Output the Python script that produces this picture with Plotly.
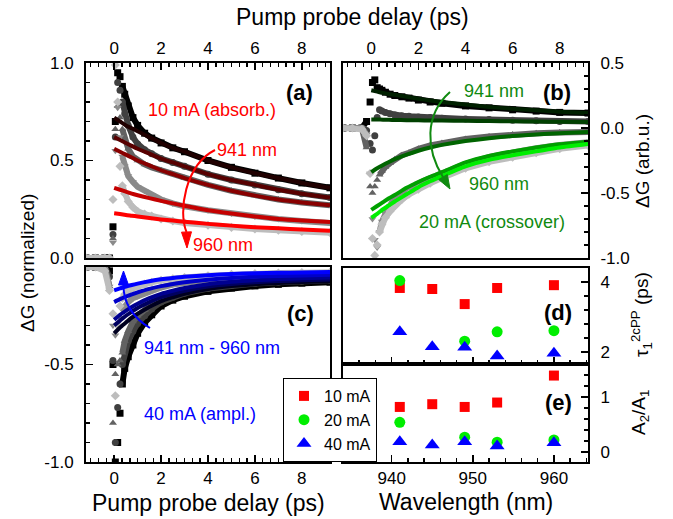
import plotly.graph_objects as go

W, H = 673, 519

# ---------------- data ----------------
wavelengths_nm = [941, 945, 949, 953, 960]
currents = ["10 mA", "20 mA", "40 mA"]

t_data = [-1.2, -0.8, -0.4, -0.2, -0.05, 0.05, 0.15, 0.25, 0.35, 0.45, 0.6, 0.8,
          1.0, 1.3, 1.6, 2.0, 2.5, 3.0, 4.0, 5.0, 6.0, 7.0, 8.0, 9.2]
t_fit = [0, 0.25, 0.5, 0.75, 1.0, 1.5, 2.0, 2.5, 3.0, 4.0, 5.0, 6.0, 7.0, 8.0, 9.2]

# (a) 10 mA absorber, normalized
a_941 = [0, 0, 0, 0, 0.16, 0.70, 0.95, 0.93, 0.88, 0.84, 0.78, 0.72, 0.68, 0.64, 0.615, 0.59, 0.565, 0.545, 0.50, 0.465, 0.435, 0.41, 0.385, 0.36]
a_945 = [0, 0, 0, 0, 0.12, 0.62, 0.90, 0.86, 0.80, 0.74, 0.68, 0.62, 0.585, 0.555, 0.535, 0.51, 0.49, 0.47, 0.43, 0.40, 0.375, 0.35, 0.33, 0.31]
a_949 = [0, 0, 0, 0, 0.10, 0.66, 0.78, 0.72, 0.66, 0.61, 0.56, 0.52, 0.50, 0.48, 0.465, 0.45, 0.43, 0.41, 0.375, 0.345, 0.32, 0.30, 0.285, 0.27]
a_953 = [0, 0, 0, 0, 0.08, 0.55, 0.77, 0.62, 0.52, 0.47, 0.42, 0.39, 0.365, 0.345, 0.325, 0.30, 0.28, 0.265, 0.245, 0.228, 0.213, 0.20, 0.19, 0.18]
a_960 = [0, 0, 0, 0, 0.30, 0.99, 0.80, 0.47, 0.37, 0.33, 0.29, 0.26, 0.24, 0.225, 0.215, 0.20, 0.19, 0.18, 0.168, 0.157, 0.149, 0.142, 0.136, 0.13]
fa_941 = [0.72, 0.70, 0.68, 0.665, 0.65, 0.62, 0.59, 0.565, 0.545, 0.50, 0.465, 0.435, 0.41, 0.385, 0.36]
fa_945 = [0.62, 0.605, 0.59, 0.575, 0.56, 0.535, 0.51, 0.49, 0.47, 0.43, 0.40, 0.375, 0.35, 0.33, 0.31]
fa_949 = [0.56, 0.545, 0.53, 0.515, 0.50, 0.475, 0.45, 0.43, 0.41, 0.375, 0.345, 0.32, 0.30, 0.285, 0.27]
fa_953 = [0.36, 0.35, 0.34, 0.33, 0.322, 0.307, 0.293, 0.28, 0.268, 0.245, 0.228, 0.213, 0.20, 0.192, 0.185]
fa_960 = [0.23, 0.226, 0.221, 0.217, 0.213, 0.205, 0.198, 0.192, 0.186, 0.175, 0.166, 0.158, 0.152, 0.146, 0.14]

# (b) 20 mA crossover, arb. units
b_941 = [0, 0, 0, 0.05, 0.20, 0.35, 0.37, 0.31, 0.30, 0.29, 0.275, 0.26, 0.25, 0.24, 0.23, 0.215, 0.20, 0.19, 0.17, 0.155, 0.14, 0.13, 0.12, 0.115]
b_945 = [0, 0, 0, -0.02, -0.12, -0.17, -0.06, 0.08, 0.14, 0.13, 0.12, 0.11, 0.10, 0.095, 0.09, 0.085, 0.08, 0.075, 0.07, 0.065, 0.06, 0.055, 0.05, 0.05]
b_949 = [0, 0, 0, -0.15, -0.45, -0.50, -0.45, -0.40, -0.36, -0.33, -0.30, -0.27, -0.24, -0.21, -0.19, -0.16, -0.135, -0.115, -0.085, -0.065, -0.05, -0.04, -0.035, -0.03]
b_953 = [0, 0, 0, -0.05, -0.35, -0.70, -0.86, -0.92, -0.80, -0.72, -0.66, -0.60, -0.53, -0.50, -0.465, -0.425, -0.385, -0.35, -0.275, -0.222, -0.186, -0.156, -0.13, -0.11]
b_960 = [0, 0, -0.01, -0.06, -0.35, -0.85, -0.98, -0.90, -0.80, -0.74, -0.69, -0.64, -0.60, -0.55, -0.51, -0.47, -0.425, -0.385, -0.31, -0.26, -0.225, -0.19, -0.16, -0.135]
fb_941 = [0.29, 0.28, 0.27, 0.262, 0.255, 0.24, 0.225, 0.212, 0.20, 0.18, 0.162, 0.148, 0.136, 0.125, 0.115]
fb_945 = [0.065, 0.065, 0.064, 0.063, 0.062, 0.060, 0.059, 0.058, 0.057, 0.055, 0.053, 0.051, 0.050, 0.048, 0.046]
fb_949 = [-0.34, -0.31, -0.285, -0.262, -0.24, -0.205, -0.175, -0.15, -0.13, -0.10, -0.078, -0.062, -0.05, -0.04, -0.03]
fb_953 = [-0.63, -0.60, -0.57, -0.54, -0.515, -0.46, -0.415, -0.375, -0.34, -0.265, -0.215, -0.18, -0.15, -0.125, -0.105]
fb_960 = [-0.69, -0.66, -0.625, -0.595, -0.565, -0.51, -0.455, -0.41, -0.37, -0.295, -0.245, -0.21, -0.18, -0.15, -0.123]

# (c) 40 mA amplifier, normalized
c_941 = [0, 0, 0, -0.02, -0.50, -1.0, -0.90, -0.75, -0.60, -0.52, -0.46, -0.40, -0.34, -0.285, -0.245, -0.20, -0.17, -0.15, -0.125, -0.108, -0.097, -0.089, -0.083, -0.078]
c_945 = [0, 0, 0, -0.05, -0.48, -0.90, -0.72, -0.60, -0.50, -0.44, -0.38, -0.33, -0.29, -0.25, -0.215, -0.18, -0.155, -0.135, -0.11, -0.095, -0.085, -0.078, -0.073, -0.068]
c_949 = [0, 0, 0, -0.10, -0.80, -0.55, -0.50, -0.48, -0.44, -0.38, -0.33, -0.28, -0.25, -0.22, -0.19, -0.16, -0.138, -0.12, -0.098, -0.083, -0.075, -0.068, -0.063, -0.058]
c_953 = [0, 0, 0, -0.10, -0.30, -0.35, -0.30, -0.26, -0.22, -0.20, -0.18, -0.16, -0.15, -0.135, -0.12, -0.105, -0.09, -0.08, -0.066, -0.057, -0.051, -0.047, -0.044, -0.041]
c_960 = [0, 0, -0.02, -0.12, -0.24, -0.66, -0.30, -0.20, -0.16, -0.14, -0.12, -0.11, -0.10, -0.088, -0.078, -0.068, -0.06, -0.054, -0.045, -0.038, -0.034, -0.031, -0.029, -0.027]
fc_941 = [-0.34, -0.31, -0.285, -0.26, -0.24, -0.205, -0.175, -0.155, -0.137, -0.113, -0.098, -0.088, -0.082, -0.077, -0.073]
fc_945 = [-0.30, -0.275, -0.25, -0.23, -0.21, -0.18, -0.155, -0.137, -0.122, -0.10, -0.087, -0.078, -0.072, -0.068, -0.064]
fc_949 = [-0.27, -0.245, -0.225, -0.205, -0.188, -0.16, -0.138, -0.122, -0.108, -0.088, -0.076, -0.068, -0.062, -0.058, -0.054]
fc_953 = [-0.18, -0.165, -0.152, -0.14, -0.13, -0.112, -0.098, -0.087, -0.078, -0.065, -0.056, -0.05, -0.046, -0.043, -0.04]
fc_960 = [-0.12, -0.11, -0.10, -0.092, -0.085, -0.073, -0.063, -0.056, -0.05, -0.042, -0.036, -0.032, -0.03, -0.028, -0.026]

# (d) tau_1^2cPP (ps) and (e) A2/A1 vs wavelength
tau_10 = [3.83, 3.80, 3.37, 3.83, 3.91]
tau_20 = [4.04, None, 2.31, 2.58, 2.61]
tau_40 = [2.58, 2.15, 2.14, 1.89, 1.97]
ratio_10 = [0.82, 0.87, 0.82, 0.90, 1.39]
ratio_20 = [0.54, None, 0.27, 0.18, 0.22]
ratio_40 = [0.19, 0.13, 0.19, 0.11, 0.17]

# ---------------- styles ----------------
FONT = "Liberation Sans, Arial, sans-serif"
data_colors = ["#000000", "#404040", "#626262", "#8a8a8a", "#bdbdbd"]
data_symbols = ["square", "circle", "triangle-up", "triangle-down", "diamond"]
red_fits = ["#200000", "#580000", "#880000", "#c40000", "#ff0000"]
green_fits = ["#002000", "#004000", "#006400", "#00a000", "#00ee00"]
blue_fits = ["#000020", "#000060", "#000090", "#0000c8", "#0000ff"]
cur_colors = ["#ff0000", "#00ee00", "#0000ff"]
cur_symbols = ["square", "circle", "triangle-up"]
cur_sizes = [10, 11, 13]

fig = go.Figure()


def add_panel(xa, ya, data_series, fit_series, fit_colors):
    for i, ys in enumerate(data_series):
        # dense measured trace: continuous band before the pulse and after ~0.3 ps
        pre = [(t, v) for t, v in zip(t_data, ys) if t <= -0.2]
        post = [(t, v) for t, v in zip(t_data, ys) if t >= 0.35]
        for seg in (pre, post):
            fig.add_trace(go.Scatter(
                x=[p[0] for p in seg], y=[p[1] for p in seg], xaxis=xa, yaxis=ya,
                mode="lines", line=dict(color=data_colors[i], width=6),
                showlegend=False, hoverinfo="skip"))
        fig.add_trace(go.Scatter(
            x=t_data, y=ys, xaxis=xa, yaxis=ya, mode="markers",
            marker=dict(symbol=data_symbols[i], color=data_colors[i], size=7),
            showlegend=False, hoverinfo="skip"))
    for i, ys in enumerate(fit_series):
        fig.add_trace(go.Scatter(
            x=t_fit, y=ys, xaxis=xa, yaxis=ya, mode="lines",
            line=dict(color=fit_colors[i], width=4, shape="spline", smoothing=0.6),
            showlegend=False, hoverinfo="skip"))


add_panel("x", "y", [a_941, a_945, a_949, a_953, a_960],
          [fa_941, fa_945, fa_949, fa_953, fa_960], red_fits)
add_panel("x2", "y2", [b_941, b_945, b_949, b_953, b_960],
          [fb_941, fb_945, fb_949, fb_953, fb_960], green_fits)
add_panel("x3", "y3", [c_941, c_945, c_949, c_953, c_960],
          [fc_941, fc_945, fc_949, fc_953, fc_960], blue_fits)

for i, ys in enumerate([tau_10, tau_20, tau_40]):
    fig.add_trace(go.Scatter(x=wavelengths_nm, y=ys, xaxis="x4", yaxis="y4", mode="markers",
                             marker=dict(symbol=cur_symbols[i], color=cur_colors[i], size=cur_sizes[i]),
                             showlegend=False, hoverinfo="skip"))
for i, ys in enumerate([ratio_10, ratio_20, ratio_40]):
    fig.add_trace(go.Scatter(x=wavelengths_nm, y=ys, xaxis="x5", yaxis="y5", mode="markers",
                             marker=dict(symbol=cur_symbols[i], color=cur_colors[i], size=cur_sizes[i]),
                             name=currents[i], showlegend=True, hoverinfo="skip"))

# ---------------- axes ----------------
def px_x(x):
    return x / W


def px_y(y):
    return 1 - y / H


dom_left = [px_x(86), px_x(330)]
dom_right = [px_x(343), px_x(588)]


def axis(std=0, **kw):
    base = dict(showline=True, linecolor="black", linewidth=2, mirror=True,
                ticks="inside", tickcolor="black", tickwidth=1.5, ticklen=7,
                showgrid=False, zeroline=False, automargin=False,
                ticklabelstandoff=std,
                tickfont=dict(family=FONT, size=17, color="black"))
    base.update(kw)
    return base


def minor(vals):
    return dict(tickmode="array", tickvals=vals, ticks="inside", ticklen=4,
                tickcolor="black", tickwidth=1.5)


t_minor = [k / 3 for k in range(-3, 28) if k % 6 != 0]
t_major = [0, 2, 4, 6, 8]
wl_minor = [x for x in range(934, 965, 2) if x % 10 != 0]
XS, YS = 0, 7

layout_axes = dict(
    xaxis=axis(XS, domain=dom_left, anchor="y", side="top", range=[-1.2, 9.2],
               tickmode="array", tickvals=t_major, ticktext=[str(v) for v in t_major],
               minor=minor(t_minor)),
    yaxis=axis(YS, domain=[px_y(258), px_y(63)], anchor="x", range=[0, 1],
               tickmode="array", tickvals=[0, 0.5, 1.0], ticktext=["0.0", "0.5", "1.0"],
               minor=minor([round(0.1 * k, 2) for k in range(1, 10) if k != 5])),
    xaxis2=axis(XS, domain=dom_right, anchor="y2", side="top", range=[-1.2, 9.2],
                tickmode="array", tickvals=t_major, ticktext=[str(v) for v in t_major],
                minor=minor(t_minor)),
    yaxis2=axis(YS, domain=[px_y(258), px_y(63)], anchor="x2", side="right", range=[-1.0, 0.5],
                tickmode="array", tickvals=[-1.0, -0.5, 0.0, 0.5],
                ticktext=["-1.0", "-0.5", "0.0", "0.5"],
                minor=minor([round(-1 + 0.1 * k, 2) for k in range(1, 15) if k % 5 != 0])),
    xaxis3=axis(XS, domain=dom_left, anchor="y3", side="bottom", range=[-1.2, 9.2],
                tickmode="array", tickvals=t_major, ticktext=[str(v) for v in t_major],
                minor=minor(t_minor)),
    yaxis3=axis(YS, domain=[px_y(462), px_y(267)], anchor="x3", range=[-1, 0],
                tickmode="array", tickvals=[-1.0, -0.5], ticktext=["-1.0", "-0.5"],
                minor=minor([round(-1 + 0.1 * k, 2) for k in range(1, 11) if k != 5])),
    xaxis4=axis(XS, domain=dom_right, anchor="y4", side="bottom", range=[934, 964.2],
                tickmode="array", tickvals=[940, 950, 960], showticklabels=False,
                minor=minor(wl_minor)),
    yaxis4=axis(YS, domain=[px_y(364), px_y(268)], anchor="x4", side="right", range=[1.66, 4.4],
                tickmode="array", tickvals=[2, 4], ticktext=["2", "4"],
                minor=minor([2.4, 2.8, 3.2, 3.6])),
    xaxis5=axis(XS, domain=dom_right, anchor="y5", side="bottom", range=[934, 964.2],
                tickmode="array", tickvals=[940, 950, 960], ticktext=["940", "950", "960"],
                minor=minor(wl_minor)),
    yaxis5=axis(YS, domain=[px_y(462), px_y(364)], anchor="x5", side="right", range=[-0.18, 1.6],
                tickmode="array", tickvals=[0, 1], ticktext=["0", "1"],
                minor=minor([0.2, 0.4, 0.6, 0.8, 1.2, 1.4])),
)

# ---------------- annotations ----------------
annotations = []


def text(x, y, s, size=17, color="black", angle=0):
    annotations.append(dict(x=px_x(x), y=px_y(y), xref="paper", yref="paper", text=s,
                            showarrow=False, xanchor="center", yanchor="middle",
                            textangle=angle, font=dict(family=FONT, size=size, color=color)))


text(352, 17, "Pump probe delay (ps)", 23)
text(208, 503, "Pump probe delay (ps)", 23)
text(466, 502, "Wavelength (nm)", 23)
text(27, 263, "ΔG (normalized)", 19, angle=-90)
text(643, 161, "ΔG (arb.u.)", 19, angle=-90)
text(641, 315, "τ<sub>1</sub><sup>2cPP</sup> (ps)", 19, angle=-90)
text(640, 413, "A<sub>2</sub>/A<sub>1</sub>", 19, angle=-90)
for lbl, x, y in [("(a)", 299, 92), ("(b)", 557, 92), ("(c)", 300, 313),
                  ("(d)", 558, 312), ("(e)", 558, 402)]:
    text(x, y, "<b>" + lbl + "</b>", 22)
RED, GREEN, BLUE = "#ff0000", "#108a10", "#0000ff"
AS = 18
text(212, 110, "10 mA (absorb.)", AS, RED)
text(247, 150, "941 nm", AS, RED)
text(223, 245, "960 nm", AS, RED)
text(494, 91, "941 nm", AS, GREEN)
text(499, 184, "960 nm", AS, GREEN)
text(492, 222, "20 mA (crossover)", AS, GREEN)
text(212, 348, "941 nm - 960 nm", AS, BLUE)
text(200, 414, "40 mA (ampl.)", AS, BLUE)


# curved arrows (paper coords from pixel positions)
def pp(x, y):
    return f"{px_x(x):.5f},{px_y(y):.5f}"


shapes = []


def curved_arrow(p0, c1, c2, p1, tip, color):
    shapes.append(dict(type="path", xref="paper", yref="paper",
                       path=f"M{pp(*p0)} C{pp(*c1)} {pp(*c2)} {pp(*p1)}",
                       line=dict(color=color, width=2)))
    dx, dy = tip[0] - p1[0], tip[1] - p1[1]
    n = (dx * dx + dy * dy) ** 0.5
    ux, uy = dx / n, dy / n
    hw = 5
    b1 = (p1[0] - uy * hw, p1[1] + ux * hw)
    b2 = (p1[0] + uy * hw, p1[1] - ux * hw)
    shapes.append(dict(type="path", xref="paper", yref="paper",
                       path=f"M{pp(*tip)} L{pp(*b1)} L{pp(*b2)} Z",
                       fillcolor=color, line=dict(color=color, width=1)))


curved_arrow((215, 150), (185, 165), (178, 212), (186.5, 232), (187, 248), RED)
curved_arrow((450, 92), (424, 115), (426, 150), (443, 177), (450, 189), "#108a10")
curved_arrow((150, 328), (133, 318), (123, 302), (123.5, 285), (123.5, 271), BLUE)

fig.update_layout(
    template="none",
    width=W, height=H, margin=dict(l=0, r=0, t=0, b=0, autoexpand=False),
    paper_bgcolor="white", plot_bgcolor="white",
    font=dict(family=FONT, size=17, color="black"),
    annotations=annotations, shapes=shapes,
    showlegend=True,
    legend=dict(x=px_x(283), y=px_y(378), xanchor="left", yanchor="top",
                bgcolor="white", bordercolor="black", borderwidth=1,
                font=dict(family=FONT, size=16, color="black"), tracegroupgap=0),
    **layout_axes,
)

fig.write_html("out.html", config={"displayModeBar": False, "staticPlot": True},
               post_script="document.body.style.margin='0';document.body.style.overflow='hidden';")
